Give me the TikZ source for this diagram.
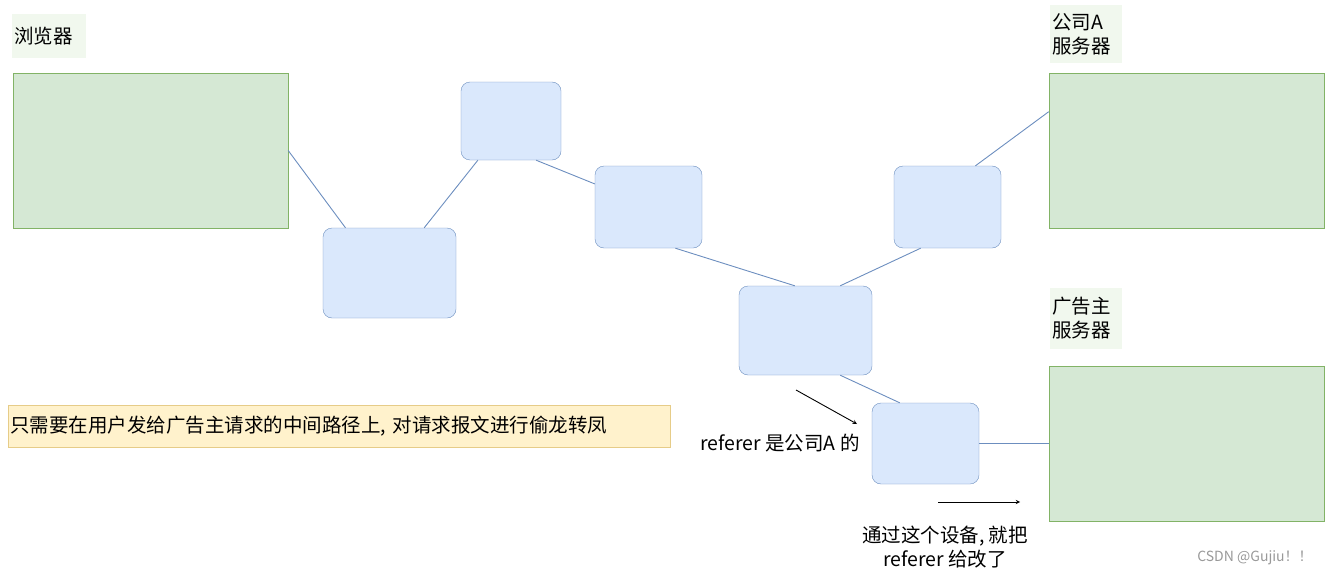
\documentclass[tikz,border=0pt]{standalone}
\usepackage{fontspec}
\setmainfont{Liberation Sans}
\newfontfamily\cjk{Noto Sans CJK SC}
\usetikzlibrary{calc}
\definecolor{gfill}{HTML}{D5E8D4}\definecolor{gline}{HTML}{82B366}
\definecolor{bfill}{HTML}{DAE8FC}\definecolor{bline}{HTML}{6C8EBF}
\definecolor{yfill}{HTML}{FFF2CC}\definecolor{yline}{HTML}{E6CC88}
\definecolor{lbl}{HTML}{F1F8EE}
\begin{document}
\begin{tikzpicture}[x=1pt,y=-1pt,font=\cjk\fontsize{19.5}{24}\selectfont,
  srv/.style={draw=gline,fill=gfill,minimum width=275pt,minimum height=155pt,inner sep=0},
  dev/.style={draw=bline,fill=bfill,rounded corners=9pt,inner sep=0},
  tag/.style={fill=lbl,inner sep=0,align=left},
  link/.style={draw=bline,line width=0.9pt},
  arr/.style={draw=black,-stealth,line width=0.9pt}]
\useasboundingbox (0,0) rectangle (1332,578);
\node[tag,minimum width=74pt,minimum height=44pt,text width=70pt] (tb) at (49,36) {浏览器};
\node[srv] (br) at (150.5,150.5) {};
\node[tag,minimum width=72pt,minimum height=58pt,text width=68pt] (ta) at (1086,34) {公司A\\服务器};
\node[srv] (sa) at (1186.5,150.5) {};
\node[tag,minimum width=72pt,minimum height=61pt,text width=68pt] (tg) at (1086,318.5) {广告主\\服务器};
\node[srv] (sg) at (1186.5,443.5) {};
\node[dev,minimum width=133pt,minimum height=90pt] (b1) at (389.5,273) {};
\node[dev,minimum width=100pt,minimum height=78pt] (b2) at (511,121) {};
\node[dev,minimum width=107pt,minimum height=82pt] (b3) at (648.5,207) {};
\node[dev,minimum width=133pt,minimum height=89pt] (b4) at (805.5,330.5) {};
\node[dev,minimum width=107pt,minimum height=82pt] (b5) at (947.5,207) {};
\node[dev,minimum width=107pt,minimum height=81pt] (b6) at (925.5,443.5) {};
\draw[link] ($(br.north east)!0.5!(br.south east)$) -- ($(b1.north west)!0.17!(b1.north east)$);
\draw[link] ($(b1.north west)!0.76!(b1.north east)$) -- ($(b2.south west)!0.17!(b2.south east)$);
\draw[link] ($(b2.south west)!0.75!(b2.south east)$) -- ($(b3.north west)!0.22!(b3.south west)$);
\draw[link] ($(b3.south west)!0.75!(b3.south east)$) -- ($(b4.north west)!0.42!(b4.north east)$);
\draw[link] ($(b4.north west)!0.76!(b4.north east)$) -- ($(b5.south west)!0.25!(b5.south east)$);
\draw[link] ($(b5.north west)!0.76!(b5.north east)$) -- ($(sa.north west)!0.25!(sa.south west)$);
\draw[link] ($(b4.south west)!0.76!(b4.south east)$) -- ($(b6.north west)!0.26!(b6.north east)$);
\draw[link] (b6.east) -- (sg.west);
\node[draw=yline,fill=yfill,minimum width=662pt,minimum height=42pt,inner sep=0,anchor=west,text width=658pt] (note) at (8,426)
  {只需要在用户发给广告主请求的中间路径上, 对请求报文进行偷龙转凤};
\node (t1) at (780,443) {referer 是公司A 的};
\coordinate (a1s) at (796,390); \coordinate (a1e) at (857,424);
\draw[arr] (a1s) -- (a1e);
\coordinate (a2s) at (938,502); \coordinate (a2e) at (1020,502);
\draw[arr] (a2s) -- (a2e);
\node[align=center] (t2) at (945,547) {通过这个设备, 就把\\referer 给改了};
\node[text=black!40,font=\cjk\fontsize{14}{16}\selectfont] (wm) at (1255,558) {CSDN @Gujiu！！};
\end{tikzpicture}
\end{document}
